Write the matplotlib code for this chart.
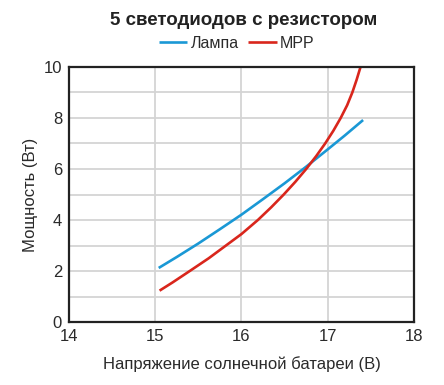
import matplotlib
matplotlib.use("Agg")
import matplotlib.pyplot as plt
from matplotlib.ticker import MultipleLocator

plt.rcParams['font.family'] = ['Liberation Sans', 'DejaVu Sans']

# Лампа
lamp_v = [15.04, 15.25, 15.5, 15.75, 16.0, 16.25, 16.5, 16.75, 17.0, 17.2, 17.41]
lamp_p = [2.12, 2.55, 3.08, 3.64, 4.21, 4.82, 5.44, 6.09, 6.77, 7.32, 7.92]

# MPP
mpp_v = [15.05, 15.2, 15.40, 15.62, 15.82, 16.0, 16.19, 16.345, 16.49, 16.625, 16.75,
         16.865, 16.97, 17.065, 17.15, 17.225, 17.285, 17.335, 17.38]
mpp_p = [1.23, 1.55, 2.0, 2.5, 3.0, 3.45, 4.0, 4.5, 5.0, 5.5, 6.0,
         6.5, 7.0, 7.5, 8.0, 8.5, 9.0, 9.5, 10.0]

fig = plt.figure(figsize=(4.44, 3.85), dpi=100)
ax = fig.add_axes([0.1554, 0.1636, 0.777, 0.6624])

ax.plot(lamp_v, lamp_p, color='#1a98d5', lw=1.9, label='Лампа', solid_capstyle='butt')
ax.plot(mpp_v, mpp_p, color='#d9261c', lw=1.9, label='MPP', solid_capstyle='butt')

ax.set_xlim(14, 18)
ax.set_ylim(0, 10)
ax.xaxis.set_major_locator(MultipleLocator(1))
ax.yaxis.set_major_locator(MultipleLocator(2))
ax.yaxis.set_minor_locator(MultipleLocator(1))
ax.grid(which='both', color='#d4d4d4', lw=1.3)
ax.set_axisbelow(True)
ax.tick_params(which='both', length=0, labelsize=12, colors='#2a2a2a', pad=5)
for s in ax.spines.values():
    s.set_linewidth(1.6)
    s.set_color('#222222')

ax.set_xlabel('Напряжение солнечной батареи (В)', fontsize=12, color='#2a2a2a', labelpad=9)
ax.set_ylabel('Мощность (Вт)', fontsize=12, color='#2a2a2a', labelpad=4)

fig.text(0.549, 0.948, '5 светодиодов с резистором', ha='center', va='center',
         fontsize=13.5, fontweight='bold', color='#222222')
fig.legend(loc='center', bbox_to_anchor=(0.533, 0.887), ncol=2, frameon=False,
           fontsize=11.5, handlelength=1.8, handletextpad=0.2, columnspacing=0.6,
           labelcolor='#2a2a2a')

fig.savefig('out.png', dpi=100)
